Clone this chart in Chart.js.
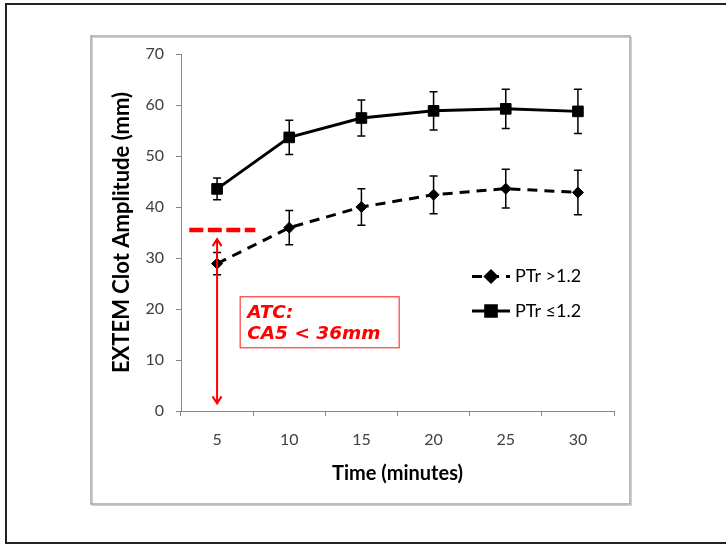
<!DOCTYPE html>
<html><head><meta charset="utf-8">
<script src="https://cdn.jsdelivr.net/npm/chart.js@4.4.1/dist/chart.umd.min.js"></script>
<style>html,body{margin:0;padding:0;background:#fff;}canvas{display:block;}</style>
</head><body>
<canvas id="c" width="726" height="544"></canvas>
<script>
// ---- data ----
const timeLabels = ['5', '10', '15', '20', '25', '30'];
const seriesHighLabel = 'PTr >1.2';
const seriesLowLabel = 'PTr \u22641.2';
const ptrHigh = [28.9, 35.95, 40.0, 42.4, 43.6, 42.85];
const ptrHighErr = [2.2, 3.35, 3.6, 3.7, 3.8, 4.35];
const ptrLow = [43.55, 53.65, 57.45, 58.85, 59.25, 58.75];
const ptrLowErr = [2.15, 3.35, 3.55, 3.75, 3.85, 4.35];
const yMin = 0, yMax = 70, yStep = 10;
const atcThreshold = 35.5;
const arrowRange = [33.7, 1.5];
const atcText = ['ATC:', 'CA5 < 36mm'];
const xTitle = 'Time (minutes)';
const yTitle = 'EXTEM Clot Amplitude (mm)';

const FONT = 'Lato';
const AXIS = '#868686';

const framePlugin = {
  id: 'frame',
  beforeDraw(chart) {
    const c = chart.ctx;
    c.save();
    c.fillStyle = '#fff';
    c.fillRect(0, 0, chart.width, chart.height);
    c.strokeStyle = '#222';
    c.lineWidth = 2;
    c.strokeRect(6, 4, 740, 539);
    c.strokeStyle = '#cfcfcf';
    c.lineWidth = 1;
    c.strokeRect(92.5, 37.5, 539, 468);
    c.strokeStyle = '#a6a6a6';
    c.lineWidth = 1.5;
    c.strokeRect(91, 36, 539, 468);
    c.restore();
  }
};

const errorBarPlugin = {
  id: 'errorBars',
  beforeDatasetsDraw(chart) {
    const c = chart.ctx, y = chart.scales.y;
    c.save();
    c.strokeStyle = '#000';
    c.lineWidth = 1.5;
    chart.data.datasets.forEach((ds, di) => {
      const meta = chart.getDatasetMeta(di);
      meta.data.forEach((pt, i) => {
        const v = ds.data[i], e = ds.errors[i];
        const yt = y.getPixelForValue(v + e), yb = y.getPixelForValue(v - e);
        c.beginPath();
        c.moveTo(pt.x, yt); c.lineTo(pt.x, yb);
        c.moveTo(pt.x - 4, yt); c.lineTo(pt.x + 4, yt);
        c.moveTo(pt.x - 4, yb); c.lineTo(pt.x + 4, yb);
        c.stroke();
      });
    });
    c.restore();
  }
};

const annotationPlugin = {
  id: 'atc',
  afterDraw(chart) {
    const c = chart.ctx, xs = chart.scales.x, ys = chart.scales.y;
    const x0 = xs.getPixelForValue(0);
    const step = xs.getPixelForValue(1) - x0;
    c.save();
    c.strokeStyle = '#ff0000';
    c.fillStyle = '#ff0000';
    const ty = ys.getPixelForValue(atcThreshold);
    c.lineWidth = 4.5;
    c.setLineDash([14, 4.5]);
    c.beginPath();
    c.moveTo(x0 - 0.385 * step, ty);
    c.lineTo(x0 + 0.53 * step, ty);
    c.stroke();
    c.setLineDash([]);
    const a1 = ys.getPixelForValue(arrowRange[0]), a2 = ys.getPixelForValue(arrowRange[1]);
    c.lineWidth = 2;
    c.beginPath();
    c.moveTo(x0, a1); c.lineTo(x0, a2);
    c.moveTo(x0 - 4.5, a1 + 7); c.lineTo(x0, a1); c.lineTo(x0 + 4.5, a1 + 7);
    c.moveTo(x0 - 4.5, a2 - 7); c.lineTo(x0, a2); c.lineTo(x0 + 4.5, a2 - 7);
    c.stroke();
    const bx = x0 + 0.32 * step, bw = 159;
    const by = ys.getPixelForValue(22.4), bh = 51;
    c.lineWidth = 1.2;
    c.strokeStyle = '#ff3b3b';
    c.strokeRect(bx, by, bw, bh);
    c.font = 'italic bold 18.5px "DejaVu Sans"';
    c.textBaseline = 'alphabetic';
    c.textAlign = 'left';
    c.fillText(atcText[0], bx + 7, by + 21.5);
    c.fillText(atcText[1], bx + 7, by + 42.5);
    c.restore();
  }
};

const legendPlugin = {
  id: 'customLegend',
  afterDraw(chart) {
    const c = chart.ctx;
    c.save();
    chart.data.datasets.forEach((ds, i) => {
      const yy = 276.5 + i * 34.5;
      c.strokeStyle = '#000';
      c.lineWidth = 3;
      c.setLineDash(ds.borderDash || []);
      c.beginPath();
      c.moveTo(472, yy); c.lineTo(510, yy);
      c.stroke();
      c.setLineDash([]);
      c.fillStyle = '#000';
      Chart.helpers.drawPoint(c, {pointStyle: ds.pointStyle, radius: ds.pointRadius, borderWidth: 1}, 491, yy);
      c.fill();
      c.font = '18px ' + FONT;
      c.textBaseline = 'middle';
      c.textAlign = 'left';
      c.fillStyle = '#000';
      c.fillText(ds.label, 515, yy);
    });
    c.restore();
  }
};

new Chart(document.getElementById('c'), {
  type: 'line',
  data: {
    labels: timeLabels,
    datasets: [
      { label: seriesHighLabel, data: ptrHigh, errors: ptrHighErr,
        borderColor: '#000', backgroundColor: '#000', borderWidth: 3, borderDash: [10, 7],
        pointStyle: 'rectRot', pointRadius: 5.5, pointBorderWidth: 1, pointHoverRadius: 5.5, tension: 0 },
      { label: seriesLowLabel, data: ptrLow, errors: ptrLowErr,
        borderColor: '#000', backgroundColor: '#000', borderWidth: 3,
        pointStyle: 'rect', pointRadius: 7.5, pointBorderWidth: 1, pointHoverRadius: 7.5, tension: 0 }
    ]
  },
  options: {
    responsive: false, animation: false, devicePixelRatio: 1,
    layout: { padding: { left: 0, top: 54, right: 112, bottom: 0 } },
    plugins: { legend: { display: false }, tooltip: { enabled: false } },
    scales: {
      x: {
        offset: true,
        grid: { offset: true, drawOnChartArea: false, drawTicks: true, tickLength: 5, color: AXIS },
        border: { color: AXIS, width: 1 },
        ticks: { font: { family: FONT, size: 16 }, color: '#404040', padding: 14, maxRotation: 0 },
        title: { display: true, text: xTitle, color: '#000', font: { family: FONT, size: 20, weight: 'bold' }, padding: { top: 0, bottom: 58 } },
        afterFit: s => { s.height = 133; }
      },
      y: {
        min: yMin, max: yMax,
        grid: { drawOnChartArea: false, drawTicks: true, tickLength: 5, color: AXIS },
        border: { color: AXIS, width: 1 },
        ticks: { stepSize: yStep, font: { family: FONT, size: 16 }, color: '#404040', padding: 12 },
        title: { display: true, text: yTitle, color: '#000', font: { family: FONT, size: 22, weight: 'bold' }, padding: { top: 109, bottom: 0 } },
        afterFit: s => { s.width = 181; }
      }
    }
  },
  plugins: [framePlugin, errorBarPlugin, annotationPlugin, legendPlugin]
});
</script>
</body></html>
